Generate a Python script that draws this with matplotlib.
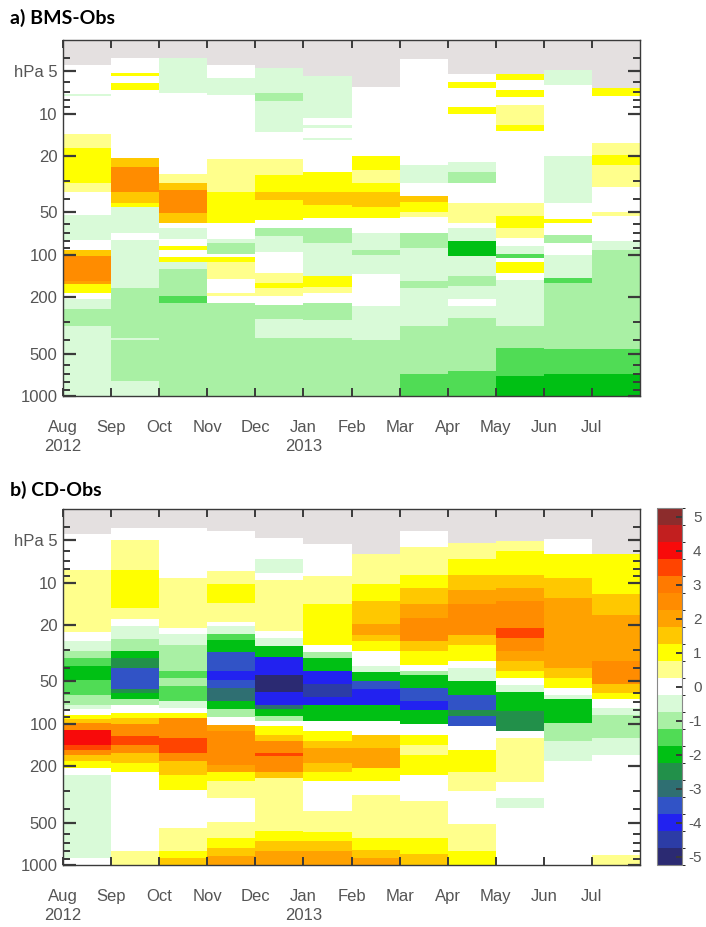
import numpy as np
import matplotlib
matplotlib.use("Agg")
import matplotlib.pyplot as plt
from matplotlib.colors import ListedColormap, BoundaryNorm

plt.rcParams["axes.unicode_minus"] = False

MONTHS = ["Aug\n2012", "Sep", "Oct", "Nov", "Dec", "Jan\n2013",
          "Feb", "Mar", "Apr", "May", "Jun", "Jul"]

# pressure (hPa) where each month's data starts (above it: no data)
BMS_TOP = [4.5, 4.0, 4.0, 4.5, 4.7, 5.4, 6.5, 4.1, 5.2, 5.2, 4.9, 6.6]
CD_TOP = [4.5, 4.1, 4.1, 4.3, 4.8, 5.35, 6.3, 4.3, 5.2, 5.05, 4.9, 6.3]

# each profile: (bottom pressure of layer, difference) going downwards
bms_aug = [(7.2, 0), (7.5, -0.5), (13.8, 0), (17.6, 0.5), (31, 1), (36, 0.5),
           (52, 0), (79, -0.5), (93, 0), (101, 1.5), (152, 2.5), (160, 2),
           (185, 1), (204, 0), (240, -0.5), (318, -1), (1000, -0.5)]
bms_sep = [(5.1, 0), (5.4, 1), (6.1, 0), (6.8, 1), (20.5, 0), (24, 1.5),
           (36, 2.5), (43, 1.5), (46, 1), (70, -0.5), (79, 0), (173, -0.5),
           (385, -1), (400, -0.5), (780, -1), (1000, -0.5)]
bms_oct = [(7.1, -0.5), (26.6, 0), (30.8, 0.5), (34.5, 1.5), (50.4, 2.5),
           (59, 1.5), (64, 0), (77, -0.5), (86, 0), (93, 1), (104, 0),
           (113, 1), (125, -0.5), (194, -1), (218, -1.5), (1000, -1)]
bms_nov = [(5.6, 0), (7.4, -0.5), (21, 0), (36, 0.5), (59, 1), (77, 0),
           (83, -0.5), (98, -1), (104, 0), (113, 1), (147, 0.5), (185, 0),
           (195, 0.5), (218, 0), (1000, -1)]
bms_dec = [(7.1, -0.5), (8.1, -1), (13.5, -0.5), (21, 0), (27, 0.5), (36, 1),
           (41, 1.5), (57, 1), (64, 0), (73, -1), (96, -0.5), (134, 0),
           (158, 0.5), (173, 1), (195, 0.5), (226, 0), (283, -1),
           (385, -0.5), (1000, -1)]
bms_jan = [(10.7, -0.5), (12.1, 0), (12.6, -0.5), (14.8, 0), (15.4, -0.5),
           (26, 0), (36, 1), (44.5, 1.5), (55, 1), (65, 0), (82, -1),
           (140, -0.5), (170, 1), (185, 0.5), (218, 0), (290, -1),
           (385, -0.5), (1000, -1)]
bms_feb = [(20, 0), (25, 1), (31, 0.5), (36, 1), (46, 1.5), (55, 1), (70, 0),
           (92, -0.5), (100, -1), (136, -0.5), (230, 0), (400, -0.5),
           (1000, -1)]
bms_mar = [(23, 0), (31, -0.5), (38, 0), (42, 1.5), (50, 1), (54, 0.5),
           (70, 0), (90, -1), (152, -0.5), (173, -1), (318, -0.5), (700, -1),
           (1000, -1.5)]
bms_apr = [(6.0, 0), (6.6, 1), (9.0, 0), (10, 1), (22, 0), (26, -0.5),
           (31, -1), (43, 0), (59, 0.5), (65, 0), (80, -0.5), (101, -2),
           (140, -0.5), (165, -1), (205, -0.5), (230, 0), (280, -0.5),
           (660, -1), (1000, -1.5)]
bms_may = [(5.8, 1), (6.8, 0), (7.6, 1), (8.7, 0), (12, 0.5), (13.3, 1),
           (43, 0), (53, 0.5), (64, 1), (76, 0.5), (86, 0), (98, -0.5),
           (106, -1.5), (113, 0), (134, 1), (150, 0), (318, -0.5), (460, -1),
           (720, -1.5), (1000, -2)]
bms_jun = [(6.3, -0.5), (20, 0), (43, -0.5), (56, 0), (59, 1), (72, 0),
           (83, -1), (100, 0), (145, -0.5), (158, -1.5), (465, -1),
           (700, -1.5), (1000, -2)]
bms_jul = [(7.5, 1), (16, 0), (19.5, 0.5), (23, 1), (33, 0.5), (50, 0),
           (53, 0.5), (80, 0), (92, -0.5), (465, -1), (700, -1.5), (1000, -2)]

cd_aug = [(8.06, 0), (22.5, 0.5), (26, 0), (30.6, -0.5), (34, -1), (39, -1.5),
          (48.5, -2), (62, -1.5), (73, -1), (79, -0.5), (86, 0), (93, 1),
          (98, 1.5), (110, 2.5), (140, 4), (152, 3.5), (165, 2.5), (183, 1.5),
          (205, 1), (229, 0), (891, -0.5), (1000, 0)]
cd_sep = [(5.0, 0), (8.06, 0.5), (15, 1), (18, 0.5), (20.3, 0), (25, -0.5),
          (30.6, -1), (34, -2), (40, -2.5), (57, -3.5), (60, -2.5), (67, -2),
          (73, -1), (84, 0), (91, 1), (100, 1.5), (122, 2.5), (140, 3.5),
          (160, 2.5), (190, 1.5), (220, 1), (800, 0), (1000, 0.5)]
cd_oct = [(9.3, 0), (20.8, 0.5), (23, 0), (27.4, -0.5), (42.4, -1),
          (47, -1.5), (54, -1), (69, -1.5), (77, -0.5), (84, 0), (91, 1),
          (126, 2.5), (160, 3.5), (183, 2.5), (229, 1.5), (293, 1), (550, 0),
          (800, 0.5), (891, 1), (1000, 1.5)]
cd_nov = [(8.3, 0), (10.2, 0.5), (13.9, 1), (18.9, 0.5), (20.3, 0),
          (23, -0.5), (25.5, -1.5), (31, -2), (42, -3.5), (49, -4),
          (56, -3.5), (69, -3), (79, -2), (90, -1), (101, 0), (113, 2),
          (195, 2.5), (218, 2), (255, 1), (335, 0.5), (494, 0), (644, 0.5),
          (760, 1), (866, 1.5), (1000, 2)]
cd_dec = [(6.8, 0), (8.5, -0.5), (9.6, 0), (22, 0.5), (24.5, 0), (28, -0.5),
          (33.3, -2), (45, -4), (59, -5), (73, -4), (79, -3), (88, -2),
          (95, -1), (103, 0), (119, 1), (133, 1.5), (160, 2.5), (170, 3.5),
          (218, 2.5), (240, 1.5), (575, 0.5), (680, 1), (800, 1.5),
          (1000, 2)]
cd_jan = [(9.0, 0), (14.2, 0.5), (27.4, 1), (31, 0), (34, -1), (42.4, -2),
          (52, -4), (65, -4.5), (73, -4), (95, -2), (113, 0), (133, 1),
          (148, 1.5), (190, 2), (218, 1.5), (255, 1), (415, 0), (585, 0.5),
          (680, 1), (800, 1.5), (1000, 2)]
cd_feb = [(10.2, 0.5), (13.5, 1), (19.5, 1.5), (23.3, 2), (26, 1.5),
          (30.6, 1), (39, 0), (43, -0.5), (50, -2), (57, -3.5), (73, -4),
          (95, -2), (119, 0), (148, 1.5), (207, 2), (255, 1), (317, 0),
          (644, 0.5), (780, 1), (891, 1.5), (1000, 2)]
cd_mar = [(5.6, 0), (8.75, 0.5), (10.9, 1), (14.2, 1.5), (17.9, 2),
          (26, 2.5), (30.6, 1.5), (38, 1), (42, 0), (45, -1), (55.6, -2),
          (69, -3.5), (80, -4), (100, -2), (119, 0), (140, 1), (165, 0.5),
          (229, 1), (354, 0), (644, 0.5), (840, 1), (1000, 1.5)]
cd_apr = [(6.8, 0.5), (8.75, 1), (11.2, 1.5), (14.2, 2), (23.3, 2.5),
          (27.4, 1.5), (36, 1), (40, 0), (50, -0.5), (62, -2), (80, -3.5),
          (88, -2.5), (103, -3.5), (152, 0), (218, 1), (300, 0.5), (515, 0),
          (800, 0.5), (1000, 1)]
cd_may = [(5.95, 0.5), (8.75, 1), (10.9, 1.5), (13.5, 2), (21, 2.5),
          (24.5, 3.5), (30.6, 2.5), (36, 2), (42.4, 1.5), (47, 1), (53, 0),
          (59, -0.5), (81, -2), (113, -2.5), (126, 0), (260, 0.5), (335, 0),
          (395, -0.5), (1000, 0)]
cd_jun = [(6.3, 0), (9.3, 1), (12.8, 1.5), (40, 2), (47, 1.5), (55.6, 1),
          (62, 0), (67, -0.5), (98, -2), (133, -1), (183, -0.5), (1000, 0)]
cd_jul = [(12.1, 1), (16.8, 1.5), (36, 2), (52.5, 2.5), (60, 1.5), (67, 1),
          (77, 0), (86, -0.5), (126, -1), (165, -0.5), (850, 0), (1000, 0.5)]

BMS = [bms_aug, bms_sep, bms_oct, bms_nov, bms_dec, bms_jan,
       bms_feb, bms_mar, bms_apr, bms_may, bms_jun, bms_jul]
CD = [cd_aug, cd_sep, cd_oct, cd_nov, cd_dec, cd_jan,
      cd_feb, cd_mar, cd_apr, cd_may, cd_jun, cd_jul]

# colour for each 0.5 step from -5 to 5
COLOURS = ["#2b2a72", "#2c3ca6", "#2222f0", "#3153c6", "#2f6f72",
           "#22904a", "#00c014", "#50dc55", "#a9f0a4", "#d9fad8",
           "#ffffff", "#ffff8c", "#ffff00", "#ffc800", "#ffa200",
           "#ff8c00", "#ff7a00", "#ff4400", "#f80a0a", "#c21f1f", "#8c2c2c"]
cmap = ListedColormap(COLOURS)
norm = BoundaryNorm(np.arange(-5.25, 5.3, 0.5), cmap.N)

GREY_TEXT = "#555555"
SPINE = "#3a3a3a"
MAJOR_P = [5, 10, 20, 50, 100, 200, 500, 1000]
MAJOR_LAB = ["hPa 5", "10", "20", "50", "100", "200", "500", "1000"]
MINOR_P = [4, 6, 7, 8, 9, 30, 40, 60, 70, 80, 90, 300, 400,
           600, 700, 800, 900]

W, H = 706, 927
fig = plt.figure(figsize=(W / 100, H / 100), dpi=100)


def draw_panel(ax, tops, columns):
    ax.set_facecolor("#e4e0e0")
    for i, (top, segs) in enumerate(zip(tops, columns)):
        edges = [top] + [p for p, _ in segs]
        vals = np.array([v for _, v in segs], dtype=float)[:, None]
        ax.pcolormesh([i, i + 1], edges, vals, cmap=cmap, norm=norm,
                      shading="flat")
    ax.set_yscale("log")
    ax.set_ylim(1000, 3)
    ax.set_xlim(0, 12)
    ax.set_yticks(MAJOR_P)
    ax.set_yticklabels(MAJOR_LAB)
    ax.set_yticks(MINOR_P, minor=True)
    ax.set_yticklabels([], minor=True)
    ax.set_xticks(range(12))
    ax.set_xticklabels(MONTHS, linespacing=1.4)
    ax.tick_params(axis="y", which="major", direction="in", length=9,
                   width=1.6, color=SPINE, right=True, labelsize=12,
                   labelcolor=GREY_TEXT, pad=4)
    ax.tick_params(axis="y", which="minor", direction="in", length=5,
                   width=1.4, color=SPINE, right=True)
    ax.tick_params(axis="x", direction="in", length=6, width=1.4,
                   color=SPINE, top=True, labelsize=12,
                   labelcolor=GREY_TEXT, pad=17)
    for t in ax.get_xticklabels() + ax.get_yticklabels():
        t.set_fontfamily("Liberation Sans")
    for s in ax.spines.values():
        s.set_color(SPINE)
        s.set_linewidth(1.0)


ax_a = fig.add_axes([63 / W, 1 - 396 / H, 577 / W, 356 / H])
draw_panel(ax_a, BMS_TOP, BMS)
ax_b = fig.add_axes([63 / W, 1 - 865 / H, 577 / W, 356 / H])
draw_panel(ax_b, CD_TOP, CD)

fig.text(10 / W, 1 - 18 / H, "a) BMS-Obs", fontsize=14, fontweight="bold",
         family="Lato", va="center", ha="left")
fig.text(10 / W, 1 - 490 / H, "b) CD-Obs", fontsize=14, fontweight="bold",
         family="Lato", va="center", ha="left")

cax = fig.add_axes([657 / W, 1 - 865 / H, 25 / W, 357 / H])
sm = plt.cm.ScalarMappable(cmap=cmap, norm=norm)
cb = fig.colorbar(sm, cax=cax, ticks=range(-5, 6))
cb.outline.set_edgecolor("#888888")
cb.outline.set_linewidth(0.8)
cax.tick_params(direction="in", length=4, width=1.4, color=SPINE,
                labelsize=11, labelcolor=GREY_TEXT, pad=14)
for t in cax.get_yticklabels():
    t.set_horizontalalignment("right")
    t.set_fontfamily("Liberation Sans")

fig.savefig("out.png", dpi=100)
